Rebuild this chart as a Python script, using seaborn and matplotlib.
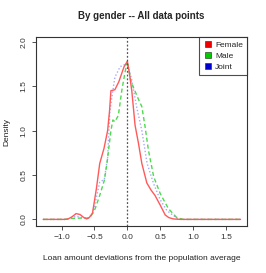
import pandas as pd
import matplotlib
matplotlib.use("Agg")
import matplotlib.pyplot as plt
import seaborn as sns
from matplotlib.lines import Line2D

# density curves
female_x = [-1.28, -0.95, -0.9, -0.84, -0.78, -0.72, -0.66, -0.62, -0.58, -0.53, -0.47, -0.42, -0.355, -0.30,
            -0.27, -0.25, -0.19, -0.13, -0.05, 0.0, 0.03, 0.067, 0.117, 0.168, 0.22, 0.296, 0.36, 0.42,
            0.50, 0.575, 0.63, 0.70, 0.8, 1.2, 1.72]
female_y = [0.0, 0.0, 0.005, 0.03, 0.065, 0.055, 0.02, 0.005, 0.02, 0.07, 0.35, 0.63, 0.80, 1.0,
            1.23, 1.45, 1.46, 1.55, 1.72, 1.78, 1.65, 1.45, 1.06, 0.86, 0.63, 0.41, 0.33, 0.27,
            0.16, 0.05, 0.02, 0.005, 0.0, 0.0, 0.0]

male_x = [-1.28, -0.95, -0.85, -0.7, -0.6, -0.55, -0.49, -0.42, -0.35, -0.31, -0.25, -0.22, -0.19, -0.137,
          -0.085, -0.035, 0.0, 0.05, 0.09, 0.13, 0.17, 0.22, 0.27, 0.32, 0.40, 0.50, 0.625, 0.75,
          0.85, 1.2, 1.72]
male_y = [0.0, 0.0, 0.01, 0.015, 0.015, 0.04, 0.12, 0.27, 0.44, 0.63, 1.0, 1.12, 1.10, 1.17,
          1.45, 1.66, 1.78, 1.57, 1.49, 1.42, 1.35, 1.27, 1.04, 0.78, 0.48, 0.29, 0.12, 0.02,
          0.0, 0.0, 0.0]

joint_x = [-1.28, -0.95, -0.85, -0.78, -0.68, -0.6, -0.53, -0.47, -0.42, -0.35, -0.30, -0.265, -0.19, -0.11,
           -0.05, 0.0, 0.067, 0.14, 0.22, 0.30, 0.40, 0.50, 0.60, 0.75, 0.85, 1.2, 1.72]
joint_y = [0.0, 0.0, 0.015, 0.035, 0.02, 0.01, 0.06, 0.25, 0.42, 0.45, 0.7, 1.23, 1.6, 1.72,
           1.74, 1.76, 1.57, 1.27, 1.0, 0.63, 0.40, 0.22, 0.10, 0.015, 0.0, 0.0, 0.0]

labels = ["Female", "Male", "Joint"]
line_colors = ["#ff5a5a", "#4fd94f", "#a8a8ff"]
box_colors = ["#ee0000", "#00cc00", "#0000cc"]

df = pd.concat([
    pd.DataFrame({"x": female_x, "y": female_y, "g": "Female"}),
    pd.DataFrame({"x": male_x, "y": male_y, "g": "Male"}),
    pd.DataFrame({"x": joint_x, "y": joint_y, "g": "Joint"}),
])

sns.set_style("ticks")
plt.rcParams['font.family'] = ['Liberation Sans', 'DejaVu Sans']

fig = plt.figure(figsize=(2.66, 2.73), dpi=100)
ax = fig.add_axes([0.135, 0.172, 0.794, 0.692])

styles = {"Female": "-", "Male": (0, (3, 2)), "Joint": (0, (1, 1.5))}
for lab, col in zip(["Joint", "Male", "Female"], [line_colors[2], line_colors[1], line_colors[0]]):
    sub = df[df["g"] == lab]
    sns.lineplot(data=sub, x="x", y="y", ax=ax, color=col, linewidth=1.0,
                 linestyle=styles[lab], estimator=None, sort=False, legend=False)

ax.axvline(0, color="#555555", linestyle=(0, (1.5, 1.5)), linewidth=0.9)

ax.set_xlim(-1.39, 1.82)
ax.set_ylim(-0.075, 2.053)
ax.set_xticks([-1.0, -0.5, 0.0, 0.5, 1.0, 1.5])
ax.set_xticklabels(["\u22121.0", "\u22120.5", "0.0", "0.5", "1.0", "1.5"])
ax.set_yticks([0.0, 0.5, 1.0, 1.5, 2.0])
ax.set_yticklabels(["0.0", "0.5", "1.0", "1.5", "2.0"], rotation=90, va="center")
ax.tick_params(labelsize=6, length=3, width=0.6, colors="#333333", pad=3)
for s in ax.spines.values():
    s.set_linewidth(0.8)
    s.set_color("#333333")

ax.set_xlabel("Loan amount deviations from the population average", fontsize=6, labelpad=10, color="#222222")
ax.set_ylabel("Density", fontsize=6, labelpad=7, color="#222222")
ax.set_title("By gender -- All data points", fontsize=7, fontweight="bold", pad=13)

handles = [Line2D([], [], marker="s", linestyle="", markersize=4, markerfacecolor=c,
                  markeredgecolor="#222222", markeredgewidth=0.4) for c in box_colors]
leg = ax.legend(handles, labels, loc="upper right", fontsize=6, frameon=True, fancybox=False,
                borderpad=0.5, handletextpad=0.4, labelspacing=0.35, handlelength=1.0,
                borderaxespad=0.0)
leg.get_frame().set_edgecolor("#222222")
leg.get_frame().set_linewidth(0.8)

fig.savefig("out.png", dpi=100)
